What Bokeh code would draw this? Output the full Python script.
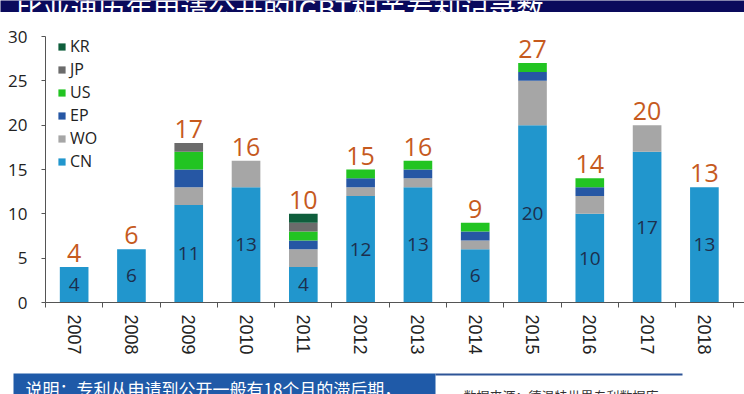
from bokeh.plotting import figure
from bokeh.models import FixedTicker, ColumnDataSource, Legend, LegendItem, Range1d
from bokeh.layouts import column
from bokeh.embed import file_html
from bokeh.resources import INLINE
from bokeh.core.properties import value

years = ["2007", "2008", "2009", "2010", "2011", "2012", "2013", "2014", "2015", "2016", "2017", "2018"]
cn = [4, 6, 11, 13, 4, 12, 13, 6, 20, 10, 17, 13]
wo = [0, 0, 2, 3, 2, 1, 1, 1, 5, 2, 3, 0]
ep = [0, 0, 2, 0, 1, 1, 1, 1, 1, 1, 0, 0]
us = [0, 0, 2, 0, 1, 1, 1, 1, 1, 1, 0, 0]
jp = [0, 0, 1, 0, 1, 0, 0, 0, 0, 0, 0, 0]
kr = [0, 0, 0, 0, 1, 0, 0, 0, 0, 0, 0, 0]
totals = [4, 6, 17, 16, 10, 15, 16, 9, 27, 14, 20, 13]

title_text = "比亚迪历年申请公开的IGBT相关专利记录数"
note_text = "说明：专利从申请到公开一般有18个月的滞后期，"
source_text = "数据来源：德温特世界专利数据库"

colors = {"cn": "#2196cd", "wo": "#a6a6a6", "ep": "#2657a4", "us": "#22c422",
          "jp": "#6b6b6b", "kr": "#0f5e3c"}

n = len(years)
xs = [i + 0.5 for i in range(n)]
stack_top = [a + b + c + d + e + f for a, b, c, d, e, f in zip(cn, wo, ep, us, jp, kr)]
src = ColumnDataSource(dict(
    x=xs, cn=cn, wo=wo, ep=ep, us=us, jp=jp, kr=kr,
    cn_mid=[v / 2 for v in cn], cn_txt=[str(v) for v in cn],
    top=stack_top, tot_txt=[str(v) for v in totals],
))

W = 744

# --- top banner ---
top = figure(width=W, height=12, x_range=Range1d(0, W), y_range=Range1d(0, 12),
             output_backend="svg", toolbar_location=None,
             x_axis_type=None, y_axis_type=None, min_border=0)
top.frame_align = False
top.outline_line_color = None
top.background_fill_color = "#0a0a5c"
top.border_fill_color = "#0a0a5c"
top.grid.visible = False
top.text(x=[15], y=[5], text=[title_text], text_color="white", text_font_size="27.5px",
         text_font=value("Noto Sans CJK SC"), text_baseline="alphabetic")

# --- main chart ---
p = figure(width=W, height=360, x_range=Range1d(0, 12.2), y_range=Range1d(0, 30),
           output_backend="svg", toolbar_location=None,
           min_border_left=45, min_border_right=0, min_border_top=24, min_border_bottom=70)
p.frame_align = False
p.outline_line_color = None
p.grid.visible = False

stackers = ["cn", "wo", "ep", "us", "jp", "kr"]
rs = p.vbar_stack(stackers, x="x", width=0.5, source=src,
                  fill_color=[colors[s] for s in stackers], line_color=None)
rmap = dict(zip(stackers, rs))

p.text(x="x", y="cn_mid", text="cn_txt", source=src, text_align="center", text_baseline="middle",
       text_font_size="19px", text_color="#1c2f4e", text_font=value("Open Sans"))
p.text(x="x", y="top", text="tot_txt", source=src, text_align="center", text_baseline="bottom",
       y_offset=-5, text_font_size="25px", text_color="#c65a1e", text_font=value("Open Sans"))

xa = p.xaxis[0]
xa.ticker = FixedTicker(ticks=xs, minor_ticks=list(range(n + 1)))
xa.major_label_overrides = {x: y for x, y in zip(xs, years)}
xa.major_tick_out = 0
xa.major_tick_in = 0
xa.minor_tick_out = 5
xa.minor_tick_in = 0
xa.major_label_orientation = "vertical"
xa.major_label_text_font = "Liberation Sans"
xa.major_label_text_font_size = "18px"
xa.major_label_text_color = "#222222"
xa.major_label_standoff = 7
xa.axis_line_color = "#555555"
xa.minor_tick_line_color = "#555555"

ya = p.yaxis[0]
ya.ticker = FixedTicker(ticks=[0, 5, 10, 15, 20, 25, 30])
ya.major_tick_out = 4
ya.major_tick_in = 0
ya.minor_tick_line_color = None
ya.major_label_text_font = "Open Sans"
ya.major_label_text_font_size = "17px"
ya.major_label_text_color = "#222222"
ya.major_label_standoff = 14
ya.axis_line_color = "#555555"
ya.major_tick_line_color = "#555555"

labels = [("KR", "kr"), ("JP", "jp"), ("US", "us"), ("EP", "ep"), ("WO", "wo"), ("CN", "cn")]
legend = Legend(items=[LegendItem(label=l, renderers=[rmap[k]]) for l, k in labels],
                location=(12, 130), padding=0, margin=0, border_line_color=None,
                background_fill_alpha=0, glyph_width=9, glyph_height=9, label_standoff=4,
                label_text_font_size="16px", label_text_font="Open Sans",
                label_text_color="#222222", label_height=14, spacing=1)
p.add_layout(legend)

# --- bottom banner ---
bot = figure(width=W, height=22, x_range=Range1d(0, W), y_range=Range1d(0, 22),
             output_backend="svg", toolbar_location=None,
             x_axis_type=None, y_axis_type=None, min_border=0)
bot.frame_align = False
bot.outline_line_color = None
bot.grid.visible = False
bot.quad(left=[13], right=[435], bottom=[-10], top=[21], fill_color="#1f5aa8", line_color=None)
bot.segment(x0=[435], y0=[20], x1=[682], y1=[20], line_color="#2e5597", line_width=2)
bot.text(x=[25], y=[19], text=[note_text], text_color="white", text_font_size="17px",
         text_font=value("Noto Sans CJK SC"), text_baseline="top")
bot.text(x=[463], y=[9], text=[source_text], text_color="#333333", text_font_size="13px",
         text_font=value("Noto Sans CJK SC"), text_baseline="top")

layout = column(top, p, bot, spacing=0)
open("out.html", "w").write(file_html(layout, INLINE))
